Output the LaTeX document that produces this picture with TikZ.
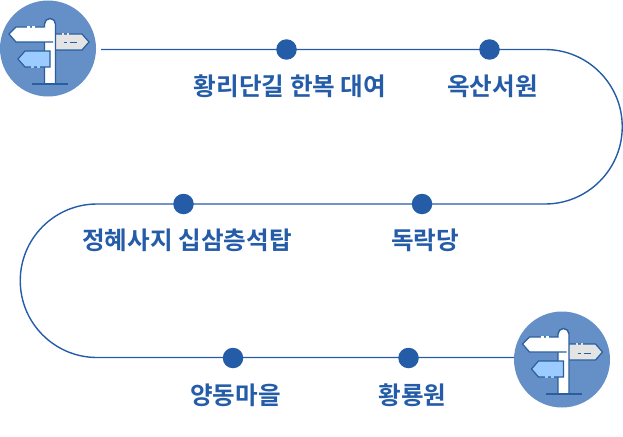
\documentclass[tikz,border=0pt]{standalone}
\usepackage{fontspec}
\setmainfont{Noto Sans CJK KR}[BoldFont={Noto Sans CJK KR Bold}]
\definecolor{routeblue}{HTML}{245CA8}
\definecolor{disc}{HTML}{658FC7}
\definecolor{edge}{HTML}{2A5F9E}
\definecolor{signgrey}{HTML}{E4E4E4}
\definecolor{signblue}{HTML}{9CCBFF}
\tikzset{
  x=1pt,y=-1pt,
  route/.style={draw=routeblue,line width=1.4pt},
  stopdot/.style={circle,fill=routeblue,minimum size=20.5pt,inner sep=0pt},
  lbl/.style={text=routeblue,font=\fontsize{24.6}{28}\selectfont\bfseries,inner sep=0pt,anchor=center},
  iconline/.style={draw=edge,line width=1.2pt,line join=miter},
  backdisc/.style={circle,fill=disc,minimum size=96pt,inner sep=0pt}
}
\newcommand{\signicon}[1]{%
  \begin{scope}[shift={#1}]
    % right grey sign
    \path[iconline,fill=signgrey] (5,-16) -- (32,-16) -- (39,-8) -- (32,0) -- (5,0) -- cycle;
    \draw[signgrey,line width=1.3pt] (12,-16) -- (14,-16) (17,-16) -- (19,-16);
    \draw[edge,line width=1pt] (14,-7) -- (17,-7) (20,-7) -- (27,-7);
    % post
    \path[draw=edge,line width=1.4pt,fill=white] (-5.5,34) -- (-5.5,-26) arc[start angle=180,end angle=0,radius=5.5pt] -- (5.5,34);
    % left white sign
    \path[iconline,fill=white] (-5.5,-23) -- (-34,-23) -- (-41,-16) -- (-34,-8) -- (3,-8);
    \draw[white,line width=1.3pt] (-23,-23) -- (-20,-23) (-18,-23) -- (-15,-23);
    % left blue sign
    \path[iconline,fill=signblue] (0,1) -- (-25,1) -- (-32,9) -- (-25,17) -- (0,17) -- cycle;
    \draw[signblue,line width=1.3pt] (-19,17) -- (-16,17) (-13,17) -- (-10,17);
    % base
    \draw[edge,line width=1.4pt] (-18,34) -- (18,34);
  \end{scope}}
\begin{document}
\begin{tikzpicture}
\useasboundingbox (0,0) rectangle (623,436);
\node[backdisc] (startdisc) at (48,48.5) {};
\node[backdisc] (enddisc) at (562,359.5) {};
\coordinate (routestart) at (101,49.5);
\coordinate (routeend) at (514,357.5);
\path[route] (routestart) -- (545,49.5) arc[start angle=90,end angle=-90,radius=77.25pt] -- (97,204) arc[start angle=90,end angle=270,radius=76.75pt] -- (routeend);
\signicon{(50,50)}
\signicon{(563.5,360)}
\node[stopdot] (s1) at (286.5,49.5) {};
\node[stopdot] (s2) at (489.5,49.5) {};
\node[stopdot] (s3) at (183.5,204) {};
\node[stopdot] (s4) at (422,204) {};
\node[stopdot] (s5) at (233,358) {};
\node[stopdot] (s6) at (408.5,358) {};
\node[lbl] (l1) at (290,86.5) {황리단길 한복 대여};
\node[lbl] (l2) at (492.5,86.5) {옥산서원};
\node[lbl] (l3) at (187,240.5) {정혜사지 십삼층석탑};
\node[lbl] (l4) at (425,240.5) {독락당};
\node[lbl] (l5) at (235.5,395.5) {양동마을};
\node[lbl] (l6) at (412.5,395.5) {황룡원};
\end{tikzpicture}
\end{document}
